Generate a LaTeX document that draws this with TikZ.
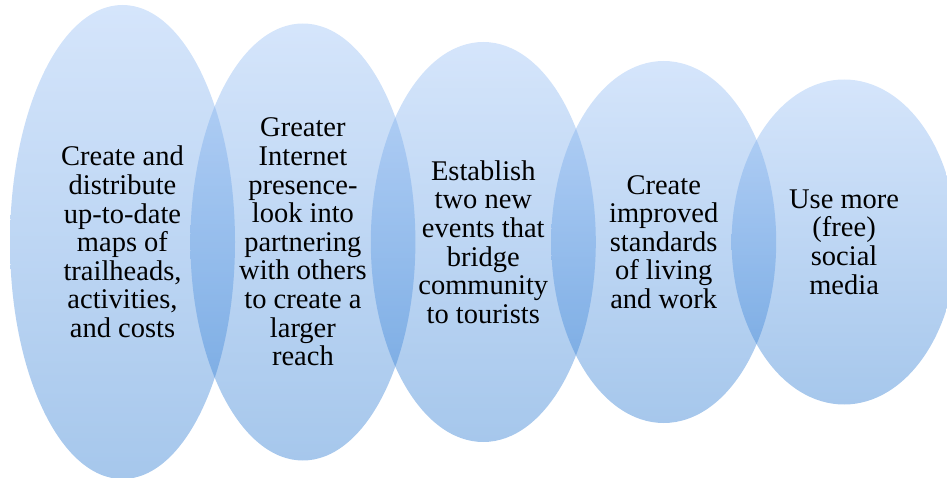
\documentclass[tikz,border=0pt]{standalone}
\usepackage{fontspec}
\setmainfont{Liberation Serif}
\usetikzlibrary{positioning,shapes.geometric}

\definecolor{bubbletop}{RGB}{150,190,245}
\definecolor{bubblebot}{RGB}{32,115,207}

\begin{document}
\begin{tikzpicture}[x=1pt,y=1pt,
  bubble/.style={ellipse,draw=none,inner sep=0pt,minimum width=225pt,top color=bubbletop,bottom color=bubblebot,fill opacity=0.4},
  txt/.style={align=center,inner sep=0pt,font=\fontsize{28.5}{28.6}\selectfont}
]
\clip (0,0) rectangle (947,477);
% the five goals, shrinking from left to right
\node[bubble,minimum height=474pt] (maps) at (122.5,235) {};
\node[bubble,minimum height=437pt,right=-45pt of maps] (web) {};
\node[bubble,minimum height=400pt,right=-45pt of web] (events) {};
\node[bubble,minimum height=362pt,right=-45pt of events] (living) {};
\node[bubble,minimum height=325pt,right=-45pt of living] (social) {};
\node[txt] (mapstext) at (maps) {Create and\\distribute\\up-to-date\\maps of\\trailheads,\\activities,\\and costs};
\node[txt] (webtext) at (web) {Greater\\Internet\\presence-\\look into\\partnering\\with others\\to create a\\larger\\reach};
\node[txt] (eventstext) at (events) {Establish\\two new\\events that\\bridge\\community\\to tourists};
\node[txt] (livingtext) at (living) {Create\\improved\\standards\\of living\\and work};
\node[txt] (socialtext) at (social) {Use more\\(free)\\social\\media};
\end{tikzpicture}
\end{document}
